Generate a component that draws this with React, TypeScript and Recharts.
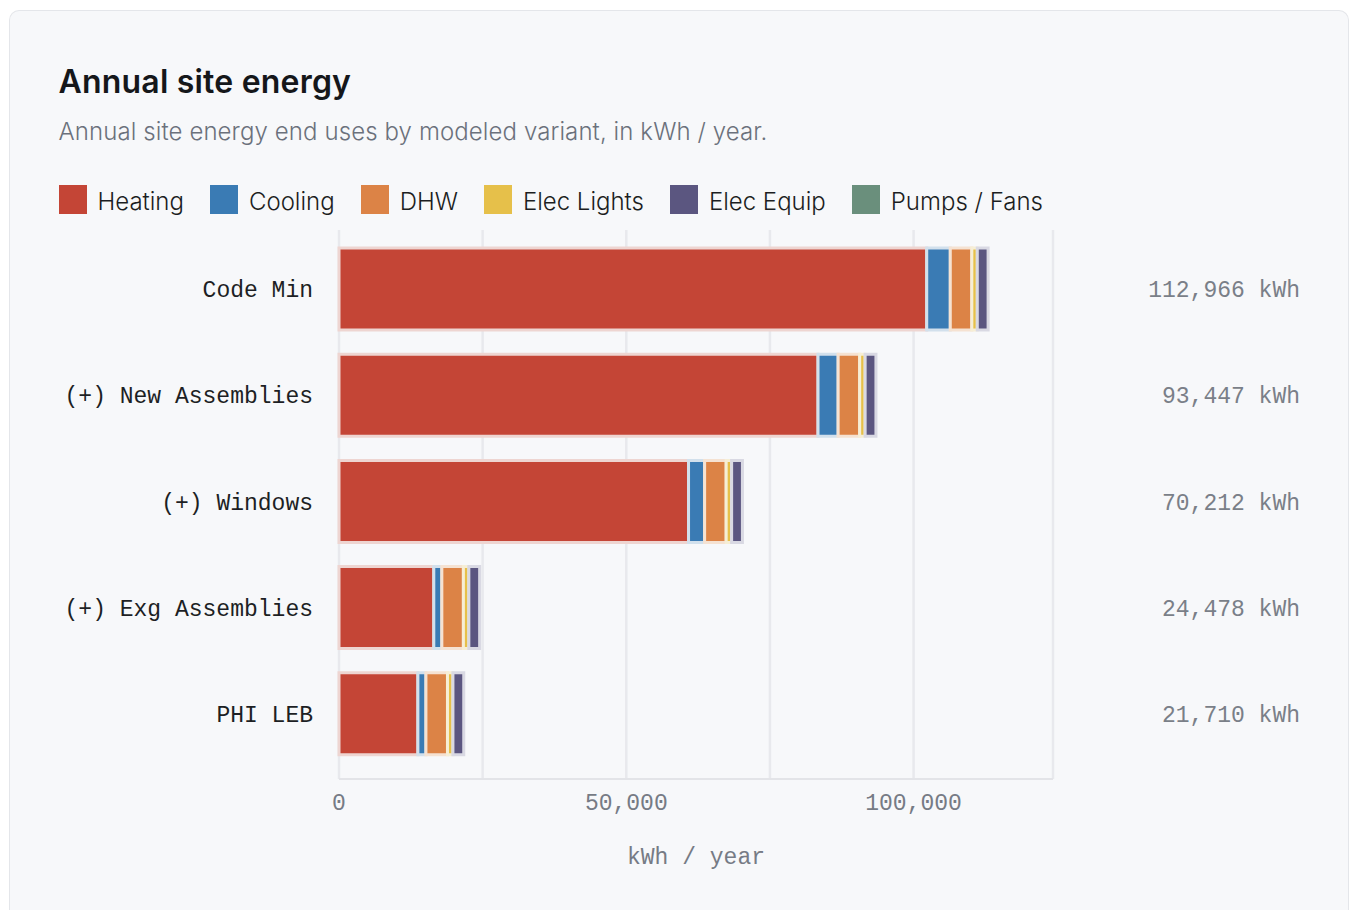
import { BarChart, Bar, XAxis, YAxis, CartesianGrid } from "recharts";

const variants = [
  "Code Min",
  "(+) New Assemblies",
  "(+) Windows",
  "(+) Exg Assemblies",
  "PHI LEB",
];
const heating = [102286, 83367, 60832, 16498, 13730];
const cooling = [4100, 3500, 2800, 1400, 1400];
const dhw = [3750, 3750, 3750, 3750, 3750];
const elecLights = [950, 950, 950, 950, 950];
const elecEquip = [1880, 1880, 1880, 1880, 1880];
const pumpsFans = [0, 0, 0, 0, 0];
const xTicks = [0, 25000, 50000, 75000, 100000];

const series = [
  { key: "heating", label: "Heating", color: "#c44536", edge: "#eed5d1" },
  { key: "cooling", label: "Cooling", color: "#3a7bb4", edge: "#d2e0ec" },
  { key: "dhw", label: "DHW", color: "#dc8346", edge: "#f5e2d2" },
  { key: "lights", label: "Elec Lights", color: "#e6c04a", edge: "#f6eed5" },
  { key: "equip", label: "Elec Equip", color: "#5b5680", edge: "#d9d9e3" },
  { key: "pumps", label: "Pumps / Fans", color: "#6a8f7c", edge: "#d9e3dd" },
];

const data = variants.map((name, i) => ({
  name,
  heating: heating[i],
  cooling: cooling[i],
  dhw: dhw[i],
  lights: elecLights[i],
  equip: elecEquip[i],
  pumps: pumpsFans[i],
}));

const totals = data.map(
  (d) => d.heating + d.cooling + d.dhw + d.lights + d.equip + d.pumps
);
const maxTotal = Math.max(...totals);

const mono = "'Liberation Mono', 'DejaVu Sans Mono', monospace";
const fmt = (v: number) => v.toLocaleString("en-US");

const App = () => {
  return (
    <div style={{ padding: "10px 0 0 9px", width: 1342, height: 900 }}>
      <style>{"html,body{margin:0;overflow:hidden}"}</style>
      <div
        style={{
          width: 1340,
          height: 900,
          boxSizing: "border-box",
          border: "1.5px solid #e4e6ea",
          borderBottom: "none",
          borderRadius: "10px 10px 0 0",
          background: "#f7f8fa",
          paddingLeft: 48.5,
          paddingTop: 52,
          fontFamily: "Inter, 'Noto Sans', sans-serif",
        }}
      >
        <div
          style={{
            fontSize: 32,
            lineHeight: "38px",
            fontWeight: 600,
            letterSpacing: 0.2,
            color: "#15171a",
          }}
        >
          Annual site energy
        </div>
        <div
          style={{
            marginTop: 16,
            fontSize: 24,
            lineHeight: "30px",
            fontWeight: 300,
            letterSpacing: 0.1,
            color: "#6b717c",
          }}
        >
          Annual site energy end uses by modeled variant, in kWh / year.
        </div>
        <div
          style={{
            marginTop: 37,
            height: 30,
            display: "flex",
            alignItems: "center",
          }}
        >
          {series.map((s) => (
            <div
              key={s.key}
              style={{ display: "flex", alignItems: "center", marginRight: 26 }}
            >
              <span
                style={{
                  width: 28,
                  height: 29,
                  background: s.color,
                  marginRight: 11,
                }}
              />
              <span
                style={{
                  fontSize: 24,
                  lineHeight: "30px",
                  fontWeight: 300,
                  color: "#1c1e22",
                  position: "relative",
                  top: 3,
                }}
              >
                {s.label}
              </span>
            </div>
          ))}
        </div>
        <BarChart
          width={1241}
          height={665}
          data={data}
          layout="vertical"
          margin={{ top: 16, right: 0, left: 0, bottom: 10 }}
        >
          <CartesianGrid
            horizontal={false}
            stroke="#e8e9ed"
            strokeWidth={2.5}
          />
          <XAxis
            type="number"
            domain={[0, maxTotal * 1.1]}
            ticks={xTicks}
            tickFormatter={(v: number) => (v % 50000 === 0 ? fmt(v) : "")}
            tickLine={false}
            tickSize={0}
            tickMargin={15}
            height={90}
            axisLine={{ stroke: "#e3e4e8", strokeWidth: 2 }}
            tick={{ fill: "#767b85", fontSize: 23, fontFamily: mono }}
            label={{
              value: "kWh / year",
              position: "insideBottom",
              offset: 5,
              fill: "#767b85",
              fontSize: 23,
              fontFamily: mono,
            }}
          />
          <YAxis
            yAxisId="left"
            type="category"
            dataKey="name"
            width={280}
            axisLine={false}
            tickLine={false}
            tickSize={0}
            tickMargin={26}
            padding={{ top: 6, bottom: 12 }}
            tick={{ fill: "#1d1f24", fontSize: 23, fontFamily: mono }}
          />
          <YAxis
            yAxisId="right"
            orientation="right"
            type="category"
            dataKey="name"
            width={247}
            axisLine={false}
            tickLine={false}
            tickSize={0}
            tickMargin={247}
            padding={{ top: 6, bottom: 12 }}
            tickFormatter={(_v: string, i: number) => `${fmt(totals[i])} kWh`}
            tick={{
              fill: "#7a7f88",
              fontSize: 23,
              fontFamily: mono,
              textAnchor: "end",
            }}
          />
          {series.map((s) => (
            <Bar
              key={s.key}
              yAxisId="left"
              dataKey={s.key}
              name={s.label}
              stackId="energy"
              fill={s.color}
              stroke={s.edge}
              strokeWidth={3}
              barSize={82}
              isAnimationActive={false}
            />
          ))}
        </BarChart>
      </div>
    </div>
  );
};

export default App;
